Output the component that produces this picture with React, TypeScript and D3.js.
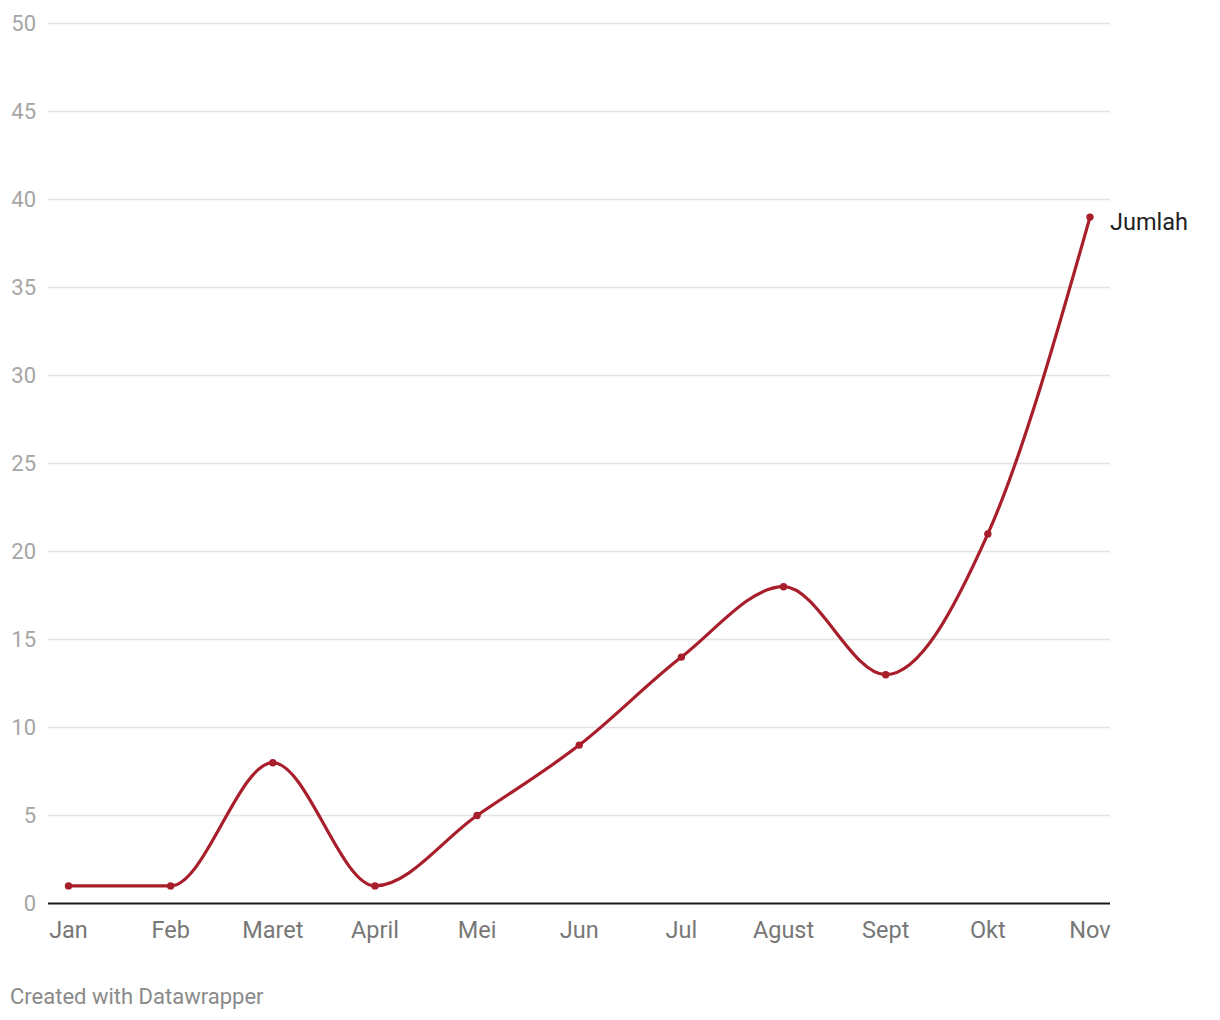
import React from "react";
import * as d3 from "d3";

const months = ["Jan", "Feb", "Maret", "April", "Mei", "Jun", "Jul", "Agust", "Sept", "Okt", "Nov"];
const jumlah = [1, 1, 8, 1, 5, 9, 14, 18, 13, 21, 39];
const yTicks = [0, 5, 10, 15, 20, 25, 30, 35, 40, 45, 50];
const seriesName = "Jumlah";

export default function App() {
  const W = 1220, H = 1020;
  const x = d3.scalePoint<string>().domain(months).range([68.5, 1090]);
  const y = d3.scaleLinear().domain([0, 50]).range([903.5, 23.5]);
  const line = d3.line<number>()
    .x((_, i) => x(months[i])!)
    .y((d) => y(d))
    .curve(d3.curveMonotoneX);
  const font = "Roboto, sans-serif";
  const color = "#a81e2b";
  const last = jumlah.length - 1;
  return (
    <svg width={W} height={H} style={{ position: "absolute", left: 0, top: 0, background: "#fff" }} fontFamily={font}>
      {yTicks.map((t) => (
        <g key={t}>
          {t !== 0 && <line x1={48} x2={1110} y1={y(t)} y2={y(t)} stroke="#e3e3e3" strokeWidth={1.5} />}
          <text x={36} y={y(t)} dy="0.35em" textAnchor="end" fontSize={22} fill="#a6a6a6">{t}</text>
        </g>
      ))}
      <line x1={48} x2={1110} y1={y(0)} y2={y(0)} stroke="#1a1a1a" strokeWidth={2} />
      {months.map((m) => (
        <text key={m} x={x(m)!} y={938} textAnchor="middle" fontSize={23.5} fill="#777">{m}</text>
      ))}
      <path d={line(jumlah)!} fill="none" stroke={color} strokeWidth={3.2} />
      {jumlah.map((v, i) => (
        <circle key={i} cx={x(months[i])!} cy={y(v)} r={3.7} fill={color} />
      ))}
      <text x={x(months[last])! + 20} y={y(jumlah[last]) + 5} dy="0.35em" fontSize={23.5} fill="#222">{seriesName}</text>
      <text x={10} y={1004} fontSize={22} fill="#8a8a8a">Created with Datawrapper</text>
    </svg>
  );
}
